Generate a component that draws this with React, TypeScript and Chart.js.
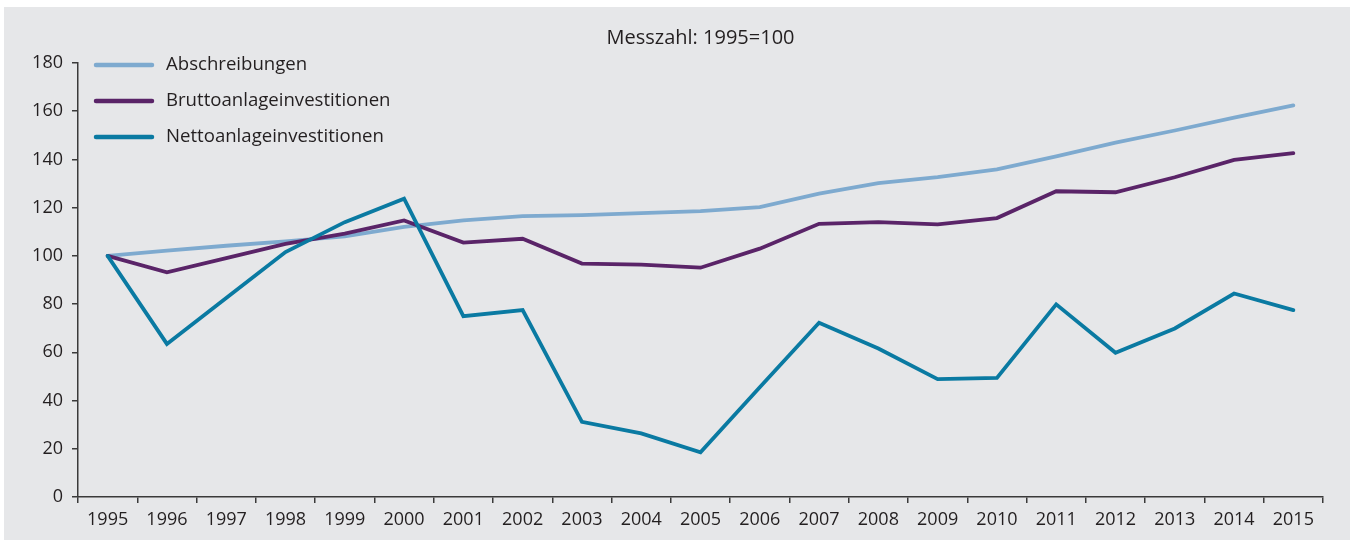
import React, { useEffect, useRef } from "react";
import { Chart, registerables } from "chart.js";

Chart.register(...registerables);

const years = ["1995","1996","1997","1998","1999","2000","2001","2002","2003","2004","2005","2006","2007","2008","2009","2010","2011","2012","2013","2014","2015"];
const abschreibungen = [100, 102.2, 104.2, 106, 108.1, 112, 114.7, 116.5, 116.9, 117.7, 118.6, 120.2, 125.8, 130.2, 132.7, 135.9, 141.3, 147, 152, 157.3, 162.4];
const brutto = [100, 93.2, 99.1, 105, 109.2, 114.7, 105.5, 107.1, 96.8, 96.4, 95.1, 103, 113.3, 114, 113.1, 115.7, 126.8, 126.4, 132.6, 139.8, 142.6];
const netto = [100, 63.5, 82.5, 101.6, 114, 123.7, 75, 77.5, 31.2, 26.4, 18.5, 45.5, 72.3, 61.6, 48.9, 49.4, 79.9, 59.8, 69.9, 84.4, 77.5];
const seriesNames = ["Abschreibungen", "Bruttoanlageinvestitionen", "Nettoanlageinvestitionen"];
const seriesColors = ["#7eaacf", "#5a2468", "#0a7aa2"];
const titleText = "Messzahl: 1995=100";

const textColor = "#231f20";
const axisColor = "#3a3a3a";
const fontFamily = '"Open Sans", "Noto Sans", sans-serif';

const overlayPlugin = {
  id: "overlay",
  afterDraw(chart: any) {
    const ctx = chart.ctx;
    const a = chart.chartArea;
    ctx.save();
    ctx.fillStyle = textColor;
    ctx.font = `20px ${fontFamily}`;
    ctx.textAlign = "center";
    ctx.textBaseline = "middle";
    ctx.fillText(titleText, (a.left + a.right) / 2, 31);
    ctx.textAlign = "left";
    ctx.font = `18.6px ${fontFamily}`;
    chart.data.datasets.forEach((ds: any, i: number) => {
      const y = 58 + i * 36;
      ctx.strokeStyle = ds.borderColor;
      ctx.lineWidth = 4.5;
      ctx.lineCap = "round";
      ctx.beginPath();
      ctx.moveTo(92, y);
      ctx.lineTo(148, y);
      ctx.stroke();
      ctx.fillStyle = textColor;
      ctx.fillText(ds.label, 162, y);
    });
    ctx.restore();
  },
};

export default function App() {
  const ref = useRef<HTMLCanvasElement | null>(null);
  useEffect(() => {
    if (!ref.current) return;
    const mk = (i: number, data: number[], order: number) => ({
      label: seriesNames[i],
      data,
      borderColor: seriesColors[i],
      backgroundColor: seriesColors[i],
      borderWidth: 3.8,
      pointRadius: 0,
      tension: 0,
      borderCapStyle: "round",
      order,
    });
    const chart = new Chart(ref.current, {
      type: "line",
      data: {
        labels: years,
        datasets: [mk(0, abschreibungen, 2), mk(1, brutto, 1), mk(2, netto, 0)] as any,
      },
      options: {
        responsive: false,
        animation: false,
        layout: { padding: { top: 56, right: 27, left: 0, bottom: 0 } },
        plugins: { legend: { display: false }, title: { display: false }, tooltip: { enabled: false } },
        scales: {
          x: {
            offset: true,
            grid: { offset: true, drawOnChartArea: false, drawTicks: true, tickLength: 6, color: axisColor, lineWidth: 1.5 },
            border: { color: axisColor, width: 1.5 },
            ticks: { color: textColor, font: { family: fontFamily, size: 18 }, padding: 6, maxRotation: 0, autoSkip: false },
            afterFit(s: any) { s.height = 43; },
          },
          y: {
            min: 0,
            max: 180,
            grid: { drawOnChartArea: false, drawTicks: true, tickLength: 6, color: axisColor, lineWidth: 1.5 },
            border: { color: axisColor, width: 1.5 },
            ticks: { stepSize: 20, color: textColor, font: { family: fontFamily, size: 18 }, padding: 9 },
            afterFit(s: any) { s.width = 74; },
          },
        },
      } as any,
      plugins: [overlayPlugin],
    });
    return () => chart.destroy();
  }, []);
  return (
    <div style={{ position: "fixed", left: 4, top: 7, width: 1346, height: 533, background: "#e6e7e9" }}>
      <canvas ref={ref} width={1346} height={533} style={{ display: "block" }} />
    </div>
  );
}
